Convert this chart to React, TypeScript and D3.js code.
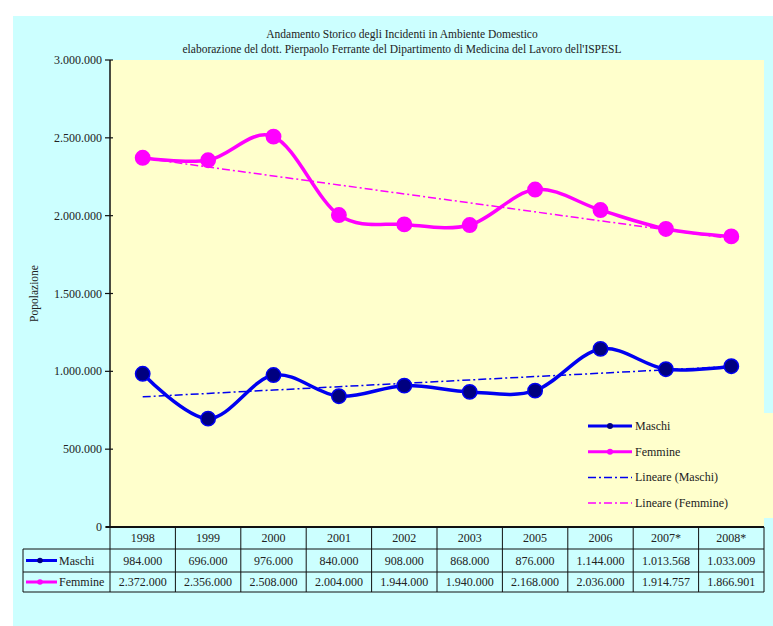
import React from 'react';
import * as d3 from 'd3';

const anni = ['1998', '1999', '2000', '2001', '2002', '2003', '2005', '2006', '2007*', '2008*'];
const maschi = [984000, 696000, 976000, 840000, 908000, 868000, 876000, 1144000, 1013568, 1033009];
const femmine = [2372000, 2356000, 2508000, 2004000, 1944000, 1940000, 2168000, 2036000, 1914757, 1866901];
const yTicks = [0, 500000, 1000000, 1500000, 2000000, 2500000, 3000000];

const W = 773;
const H = 626;
const FONT = '"Liberation Serif", "Times New Roman", serif';
const BLU = '#0000F0';
const MAG = '#FF00FF';

const it = d3.formatLocale({ decimal: ',', thousands: '.', grouping: [3], currency: ['', '€'] });
const fmt = it.format(',d');

// retta di regressione (tendenza lineare di Excel)
function linReg(vals: number[]) {
  const xs = vals.map((_, i) => i + 1);
  const mx = d3.mean(xs)!;
  const my = d3.mean(vals)!;
  const sxy = d3.sum(xs, (x, i) => (x - mx) * (vals[i] - my));
  const sxx = d3.sum(xs, x => (x - mx) ** 2);
  const b = sxy / sxx;
  const a = my - b * mx;
  return xs.map(x => a + b * x);
}

const App: React.FC = () => {
  const left = 110, right = 764, top = 60, bottom = 527;
  const x = d3.scaleBand<string>().domain(anni).range([left, right]);
  const y = d3.scaleLinear().domain([0, 3000000]).range([bottom, top]);
  const cx = (c: string) => x(c)! + x.bandwidth() / 2;

  const smooth = d3.line<number>()
    .x((_, i) => cx(anni[i]))
    .y(d => y(d))
    .curve(d3.curveCardinal.tension(0));
  const straight = d3.line<number>()
    .x((_, i) => cx(anni[i]))
    .y(d => y(d));

  const series = [
    { name: 'Maschi', data: maschi, color: BLU, fill: '#000080' },
    { name: 'Femmine', data: femmine, color: MAG, fill: MAG },
  ];

  const rowCat = [bottom, 549];
  const rows = [[549, 572], [572, 592]];
  const keyLeft = 23;

  const legend = [
    { label: 'Maschi', color: BLU, dot: true, dash: null },
    { label: 'Femmine', color: MAG, dot: true, dash: null },
    { label: 'Lineare (Maschi)', color: BLU, dot: false, dash: '8,3,2,3' },
    { label: 'Lineare (Femmine)', color: MAG, dot: false, dash: '8,3,2,3' },
  ];

  return (
    <svg width={W} height={H} style={{ position: 'absolute', left: 0, top: 0 }} fontFamily={FONT}>
      <rect x={13} y={16} width={W - 13} height={H - 16} fill="#CCFFFF" />
      <rect x={left} y={top} width={right - left} height={bottom - top} fill="#FFFFCC" />
      <rect x={575} y={413} width={W - 575} height={105} fill="#FFFFCC" />

      <text x={402} y={38} textAnchor="middle" fontSize={11.5} fill="#222">
        Andamento Storico degli Incidenti in Ambiente Domestico
      </text>
      <text x={402} y={53} textAnchor="middle" fontSize={11.5} fill="#222">
        elaborazione del dott. Pierpaolo Ferrante del Dipartimento di Medicina del Lavoro dell'ISPESL
      </text>

      <text transform={`translate(38,${(top + bottom) / 2}) rotate(-90)`} textAnchor="middle" fontSize={11.5} fill="#222">
        Popolazione
      </text>

      {/* asse y */}
      <line x1={left} x2={left} y1={top} y2={bottom} stroke="#111" strokeWidth={1.5} />
      {yTicks.map(t => (
        <g key={t}>
          <line x1={left - 5} x2={left + 3} y1={y(t)} y2={y(t)} stroke="#111" strokeWidth={1.2} />
          <text x={left - 8} y={y(t) + 4} textAnchor="end" fontSize={12} fill="#222">{fmt(t)}</text>
        </g>
      ))}

      {/* tendenze */}
      {series.map(s => (
        <path key={'t' + s.name} d={straight(linReg(s.data))!} fill="none" stroke={s.color}
          strokeWidth={1.5} strokeDasharray="8,3,2,3" />
      ))}

      {/* serie */}
      {series.map(s => (
        <g key={s.name}>
          <path d={smooth(s.data)!} fill="none" stroke={s.color} strokeWidth={3.5} />
          {s.data.map((v, i) => (
            <circle key={i} cx={cx(anni[i])} cy={y(v)} r={7.2} fill={s.fill} stroke={s.color} strokeWidth={1.5} />
          ))}
        </g>
      ))}

      {/* legenda */}
      {legend.map((l, i) => {
        const ly = 426 + i * 25.7;
        return (
          <g key={l.label}>
            <line x1={588} x2={632} y1={ly} y2={ly} stroke={l.color}
              strokeWidth={l.dot ? 3 : 1.5} strokeDasharray={l.dash ?? undefined} />
            {l.dot && <circle cx={610} cy={ly} r={3} fill={l.color === BLU ? '#000080' : MAG} />}
            <text x={635} y={ly + 4} fontSize={12} fill="#222">{l.label}</text>
          </g>
        );
      })}

      {/* tabella dati */}
      <line x1={left - 4} x2={right} y1={bottom} y2={bottom} stroke="#111" strokeWidth={1.8} />
      {anni.map(c => (
        <text key={c} x={cx(c)} y={rowCat[0] + 15} textAnchor="middle" fontSize={12} fill="#222">{c}</text>
      ))}
      {[...anni.map(c => x(c)!), right].map((xx, i) => (
        <line key={i} x1={xx} x2={xx} y1={bottom} y2={rows[1][1]} stroke="#111" strokeWidth={1} />
      ))}
      <line x1={keyLeft} x2={keyLeft} y1={rows[0][0]} y2={rows[1][1]} stroke="#111" strokeWidth={1} />
      {[rows[0][0], rows[1][0], rows[1][1]].map(yy => (
        <line key={yy} x1={keyLeft} x2={right} y1={yy} y2={yy} stroke="#111" strokeWidth={1} />
      ))}
      {series.map((s, r) => {
        const my = (rows[r][0] + rows[r][1]) / 2;
        return (
          <g key={'row' + s.name}>
            <line x1={26} x2={57} y1={my} y2={my} stroke={s.color} strokeWidth={3} />
            <circle cx={40} cy={my} r={2.8} fill={s.fill} />
            <text x={59} y={my + 4} fontSize={12} fill="#222">{s.name}</text>
            {s.data.map((v, i) => (
              <text key={i} x={cx(anni[i])} y={my + 4} textAnchor="middle" fontSize={12} fill="#222">{fmt(v)}</text>
            ))}
          </g>
        );
      })}
    </svg>
  );
};

export default App;
